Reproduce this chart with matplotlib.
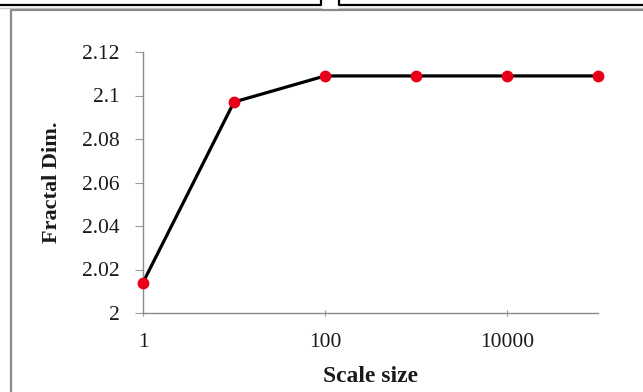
import matplotlib
matplotlib.use("Agg")
import matplotlib.pyplot as plt
from matplotlib.lines import Line2D
from matplotlib.ticker import FuncFormatter, NullLocator

# data
scale_size = [1, 10, 100, 1000, 10000, 100000]
fractal_dim = [2.014, 2.097, 2.109, 2.109, 2.109, 2.109]
x_ticks = [1, 100, 10000]
y_ticks = [2.0, 2.02, 2.04, 2.06, 2.08, 2.1, 2.12]

plt.rcParams['font.family'] = ['Liberation Serif', 'DejaVu Serif']

W, H = 643, 392
fig = plt.figure(figsize=(W / 100, H / 100), dpi=100)
fig.patch.set_facecolor('white')

# axes placed in pixels
left, right, top, bottom = 143, 598, 52, 313
ax = fig.add_axes([left / W, 1 - bottom / H, (right - left) / W, (bottom - top) / H])

ax.plot(scale_size, fractal_dim, color='black', lw=2.3, zorder=2, clip_on=False)
ax.plot(scale_size, fractal_dim, 'o', color='#e8001a', ms=8.5, mec='none', zorder=3, clip_on=False)

ax.set_xscale('log')
ax.set_xlim(1, 100000)
ax.set_ylim(2.0, 2.12)
ax.set_xticks(x_ticks)
ax.xaxis.set_minor_locator(NullLocator())
ax.xaxis.set_major_formatter(FuncFormatter(lambda v, p: f'{v:g}'))
ax.set_yticks(y_ticks)
ax.yaxis.set_major_formatter(FuncFormatter(lambda v, p: f'{v:g}'))

for s in ['top', 'right']:
    ax.spines[s].set_visible(False)
for s in ['left', 'bottom']:
    ax.spines[s].set_color('#8a8a8a')
    ax.spines[s].set_linewidth(1.0)

ax.tick_params(axis='y', direction='out', length=6, width=0.8, color='#9a9a9a',
               pad=11, labelsize=15.5, labelcolor='#1a1a1a')
ax.tick_params(axis='x', direction='inout', length=5, width=0.8, color='#9a9a9a',
               pad=12, labelsize=15.5, labelcolor='#1a1a1a')

ax.set_xlabel('Scale size', fontsize=17, fontweight='bold', color='#1a1a1a', labelpad=10)
ax.set_ylabel('Fractal Dim.', fontsize=16, fontweight='bold', color='#1a1a1a', labelpad=14)

# frames of the surrounding panels (pixel coords)
def px_line(xs, ys, **kw):
    fig.add_artist(Line2D([x / W for x in xs], [1 - y / H for y in ys],
                          transform=fig.transFigure, **kw))

px_line([0, 321, 321], [5, 5, 0], color='black', lw=1.6)
px_line([339, 339, W], [0, 5, 5], color='black', lw=1.6)
px_line([0, 321], [7.5, 7.5], color='#c8c8c8', lw=1.0)
px_line([339, W], [7.5, 7.5], color='#c8c8c8', lw=1.0)
px_line([11, 11, W], [H, 10, 10], color='#8a8a8a', lw=1.6)

fig.savefig('out.png', dpi=100, facecolor='white')
